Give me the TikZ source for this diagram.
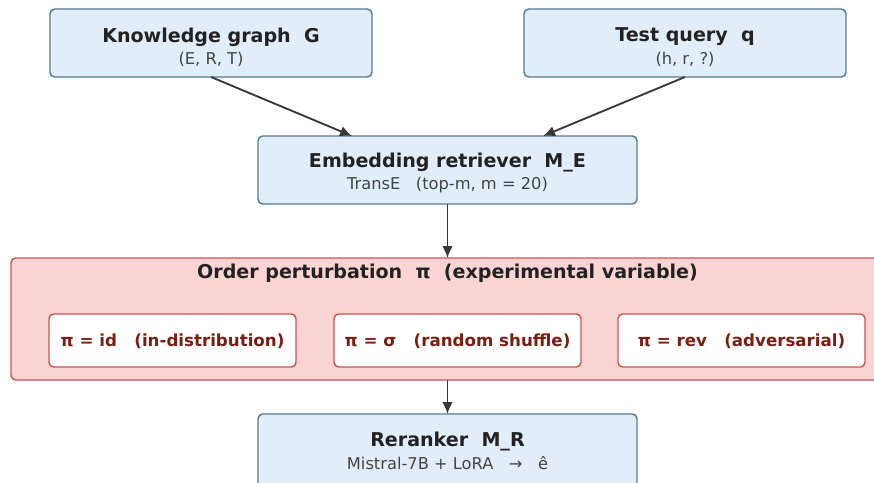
\documentclass[tikz,border=0pt]{standalone}
\usepackage{fontspec}
\setmainfont{DejaVu Sans}
\usetikzlibrary{arrows.meta}
\definecolor{bfill}{HTML}{E1EDF8}
\definecolor{bdraw}{HTML}{537A99}
\definecolor{rfill}{HTML}{F9D4D2}
\definecolor{rdraw}{HTML}{C95552}
\definecolor{rtext}{HTML}{7A1E12}
\definecolor{ttext}{HTML}{222222}
\definecolor{stext}{HTML}{444444}
\tikzset{
  bluebox/.style={draw=bdraw, fill=bfill, line width=1.1pt, rounded corners=3.5pt},
  redbox/.style={draw=rdraw, fill=rfill, line width=1.1pt, rounded corners=3.5pt},
  innerbox/.style={draw=rdraw, fill=white, line width=1.1pt, rounded corners=3.5pt},
  ttl/.style={font=\fontsize{14.3}{16}\selectfont\bfseries, text=ttext},
  sub/.style={font=\fontsize{12.2}{14}\selectfont, text=stext},
  inl/.style={font=\fontsize{12.5}{14}\selectfont\bfseries, text=rtext},
  arr/.style={draw=ttext!90, line width=1.4pt, -{Latex[length=9pt,width=8pt]}}
}
\begin{document}
\begin{tikzpicture}[x=0.75pt,y=-0.75pt]
\useasboundingbox (0,0) rectangle (874,482);
\clip (0,0) rectangle (874,482);
% boxes
\draw[bluebox] (50,9) rectangle (372,77);
\node[ttl] (kgt) at (211,37) {Knowledge graph\ \ G};
\node[sub] (kgs) at (211,59) {(E, R, T)};
\coordinate (kgb) at (211,77);
\draw[bluebox] (524,9) rectangle (846,77);
\node[ttl] (tqt) at (685,37) {Test query\ \ q};
\node[sub] (tqs) at (685,59) {(h, r, ?)};
\coordinate (tqb) at (685,77);
\draw[bluebox] (258,136) rectangle (637,204);
\node[ttl] (emt) at (447.5,163) {Embedding retriever\ \ M\_E};
\node[sub] (ems) at (447.5,185) {TransE\ \ \ (top-m, m = 20)};
\coordinate (emtl) at (352,136);
\coordinate (emtr) at (543,136);
\coordinate (emb) at (447.5,204);
\draw[redbox] (11,258) rectangle (890,380);
\node[ttl] (opt) at (447.5,273) {Order perturbation\ \ π\ \ (experimental variable)};
\coordinate (opt0) at (447.5,258);
\coordinate (opb) at (447.5,380);
\draw[innerbox] (49,314) rectangle (296,367);
\node[inl] (p1) at (172.5,341) {π = id\ \ \ (in-distribution)};
\draw[innerbox] (334,314) rectangle (581,367);
\node[inl] (p2) at (457.5,341) {π = σ\ \ \ (random shuffle)};
\draw[innerbox] (618,314) rectangle (865,367);
\node[inl] (p3) at (741.5,341) {π = rev\ \ \ (adversarial)};
\draw[bluebox] (258,414) rectangle (637,500);
\node[ttl] (rrt) at (447.5,441) {Reranker\ \ M\_R};
\node[sub] (rrs) at (447.5,463) {Mistral-7B + LoRA\ \ \ →\ \ \ ê};
\coordinate (rrtop) at (447.5,414);
% arrows
\draw[arr] (kgb) -- (emtl);
\draw[arr] (tqb) -- (emtr);
\draw[arr] (emb) -- (opt0);
\draw[arr] (opb) -- (rrtop);
\end{tikzpicture}
\end{document}
